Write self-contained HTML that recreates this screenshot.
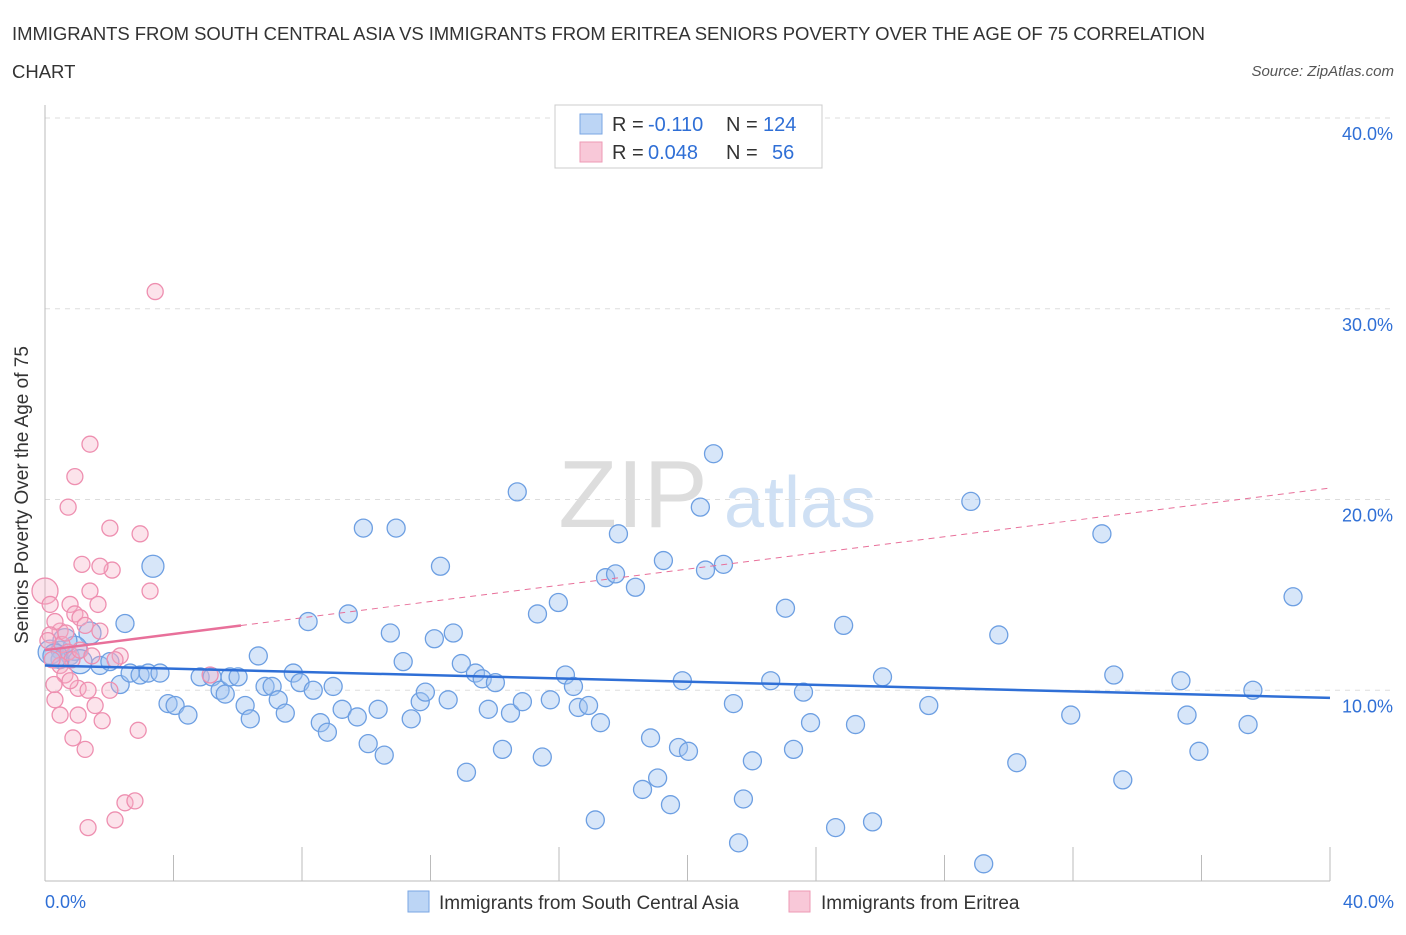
<!DOCTYPE html>
<html><head><meta charset="utf-8"><style>
body{margin:0;background:#fff;font-family:"Liberation Sans",sans-serif}
svg text{font-family:"Liberation Sans",sans-serif}
</style></head><body>
<svg id="chart" width="1406" height="930" xmlns="http://www.w3.org/2000/svg">
<text x="12" y="40" font-size="18.5" fill="#333" textLength="1193">IMMIGRANTS FROM SOUTH CENTRAL ASIA VS IMMIGRANTS FROM ERITREA SENIORS POVERTY OVER THE AGE OF 75 CORRELATION</text>
<text x="12" y="78" font-size="18.5" fill="#333">CHART</text>
<text x="1394" y="76" font-size="15" fill="#555" font-style="italic" text-anchor="end">Source: ZipAtlas.com</text>
<text x="633" y="527" font-size="96" fill="#ddd" font-family="Liberation Serif" text-anchor="middle">ZIP</text>
<text x="800" y="527" font-size="72" fill="#cfe0f4" text-anchor="middle">atlas</text>
<g id="grid"></g><g id="axes"></g><g id="pts"></g><g id="trends"></g>
<text x="28" y="495" font-size="19" fill="#333" text-anchor="middle" transform="rotate(-90 28 495)">Seniors Poverty Over the Age of 75</text>
<g>
<rect x="555" y="105" width="267" height="63" fill="#fff" stroke="#ccc"/>
<rect x="580" y="114" width="22" height="20" fill="#bcd5f5" stroke="#7aa6e3"/>
<rect x="580" y="142" width="22" height="20" fill="#f8c8d8" stroke="#ee9ab5"/>
<text x="612" y="131" font-size="20" fill="#333">R =</text>
<text x="648" y="131" font-size="20" fill="#2f6fd6">-0.110</text>
<text x="726" y="131" font-size="20" fill="#333">N =</text>
<text x="763" y="131" font-size="20" fill="#2f6fd6">124</text>
<text x="612" y="159" font-size="20" fill="#333">R =</text>
<text x="648" y="159" font-size="20" fill="#2f6fd6">0.048</text>
<text x="726" y="159" font-size="20" fill="#333">N =</text>
<text x="772" y="159" font-size="20" fill="#2f6fd6">56</text>
</g>
<g>
<rect x="408" y="891" width="21" height="21" fill="#bcd5f5" stroke="#7aa6e3"/>
<text x="439" y="909" font-size="19" fill="#333">Immigrants from South Central Asia</text>
<rect x="789" y="891" width="21" height="21" fill="#f8c8d8" stroke="#ee9ab5"/>
<text x="821" y="909" font-size="19" fill="#333">Immigrants from Eritrea</text>
</g>
</svg>
<script>
const yTicks=[10,20,30,40];
const yTickLabels=["10.0%","20.0%","30.0%","40.0%"];
const xTickLabels=["0.0%","40.0%"];
const blueX=[3.36,2.49,1.40,0.47,0.78,1.71,2.02,2.34,2.65,2.96,3.21,3.58,3.83,4.05,4.45,4.83,5.20,5.45,5.61,5.76,6.01,6.23,6.39,6.64,6.85,7.07,7.26,7.48,7.73,7.94,8.19,8.35,8.57,8.79,8.97,9.25,9.44,9.72,9.91,10.06,10.37,10.56,10.75,10.93,11.15,11.40,11.68,11.84,12.12,12.31,12.55,12.71,12.96,13.12,13.40,13.61,13.80,14.02,14.24,14.49,14.70,14.86,15.33,15.48,15.73,15.98,16.20,16.45,16.60,16.92,17.13,17.29,17.45,17.76,17.85,18.38,18.60,18.85,19.07,19.25,19.47,19.72,19.84,20.03,20.40,20.56,20.81,21.12,21.43,21.74,22.02,21.59,22.59,23.05,23.30,23.61,23.83,24.61,24.86,25.23,25.76,26.07,27.51,28.82,29.22,29.69,30.25,31.93,32.90,33.27,33.55,35.36,35.55,35.92,37.45,37.60,38.85,0.47,0.16,0.93,0.62,0.31,1.09];
const blueY=[16.5,13.5,13.0,12.1,11.8,11.3,11.5,10.3,10.9,10.8,10.9,10.9,9.3,9.2,8.7,10.7,10.7,10.0,9.8,10.7,10.7,9.2,8.5,11.8,10.2,10.2,9.5,8.8,10.9,10.4,13.6,10.0,8.3,7.8,10.2,9.0,14.0,8.6,18.5,7.2,9.0,6.6,13.0,18.5,11.5,8.5,9.4,9.9,12.7,16.5,9.5,13.0,11.4,5.7,10.9,10.6,9.0,10.4,6.9,8.8,20.4,9.4,14.0,6.5,9.5,14.6,10.8,10.2,9.1,9.2,3.2,8.3,15.9,16.1,18.2,15.4,4.8,7.5,5.4,16.8,4.0,7.0,10.5,6.8,19.6,16.3,22.4,16.6,9.3,4.3,6.3,2.0,10.5,14.3,6.9,9.9,8.3,2.8,13.4,8.2,3.1,10.7,9.2,19.9,0.9,12.9,6.2,8.7,18.2,10.8,5.3,10.5,8.7,6.8,8.2,10.0,14.9,11.6,12.0,12.2,12.6,11.8,11.5];
const pinkX=[3.43,0.93,1.40,0.72,2.02,2.96,1.15,2.09,1.71,1.40,3.27,1.65,0.78,0.93,1.09,1.25,0.47,0.31,0.16,0,0.53,0.72,0.84,0.47,0.62,1.03,1.34,1.56,2.02,2.34,2.18,5.14,0.31,0.47,1.03,1.78,2.90,0.87,1.25,2.49,2.80,2.18,1.34,0.09,0.22,0.65,1.09,1.46,0.28,0.78,1.71,0.16];
const pinkY=[30.9,21.2,22.9,19.6,18.5,18.2,16.6,16.3,16.5,15.2,15.2,14.5,14.5,14.0,13.8,13.4,13.1,13.6,12.9,15.2,12.4,12.0,11.6,11.3,10.8,10.1,10.0,9.2,10.0,11.8,11.6,10.8,9.5,8.7,8.7,8.4,7.9,7.5,6.9,4.1,4.2,3.2,2.8,12.6,11.6,13.0,12.1,11.8,10.3,10.5,13.1,14.5];
const blueTrend=[11.3,9.6];
const pinkTrend=[12.1,20.6];
const pinkSolidEnd=6.1;
const X0=45,X1=1330,Y0=881,Y1=118;
const sx=v=>X0+v/40*(X1-X0), sy=v=>Y0-v/40*(Y0-Y1);
const NS="http://www.w3.org/2000/svg";
function mk(p,t,a){const e=document.createElementNS(NS,t);for(const k in a)e.setAttribute(k,a[k]);p.appendChild(e);return e;}
const grid=document.getElementById('grid'),axes=document.getElementById('axes');
yTicks.forEach((t,i)=>{
 const l=mk(grid,'line',{x1:X0,x2:1392,y1:sy(t),y2:sy(t),stroke:'#ddd','stroke-dasharray':'5,5'});
 
 
 const tx=mk(axes,'text',{x:1393,y:sy(t)+22,'font-size':18,fill:'#2f6fd6','text-anchor':'end'});tx.textContent=yTickLabels[i];
 
 
});
const la=mk(axes,'line',{x1:X0,x2:X0,y1:105,y2:Y0,stroke:'#bbb'});


const lb=mk(axes,'line',{x1:X0,x2:X1,y1:Y0,y2:Y0,stroke:'#bbb'});


for(let i=0;i<=10;i++){const t=mk(axes,'line',{x1:sx(i*4),x2:sx(i*4),y1:Y0,y2:Y0-(i%2?26:34),stroke:'#bbb'});
 
 }
[[0,'start',45],[40,'end',1394]].forEach((d,i)=>{const t=mk(axes,'text',{x:d[2],y:908,'font-size':18,fill:'#2f6fd6','text-anchor':d[1]});t.textContent=xTickLabels[i];
 
 });
const pts=document.getElementById('pts');
blueX.forEach((x,i)=>{const c=mk(pts,'circle',{cx:sx(x),cy:sy(blueY[i]),r:(i==0||i==2)?11:(i>=118?12:9),fill:'rgba(160,196,240,0.42)',stroke:'#6d9fe2','stroke-width':1.3});
 
 });
pinkX.forEach((x,i)=>{const c=mk(pts,'circle',{cx:sx(x),cy:sy(pinkY[i]),r:i==19?13:8,fill:'rgba(246,175,198,0.35)',stroke:'#ee8fb0','stroke-width':1.3});
 
 });
const tr=document.getElementById('trends');
const bt=mk(tr,'line',{x1:sx(0),y1:sy(blueTrend[0]),x2:sx(40),y2:sy(blueTrend[1]),stroke:'#2f6fd6','stroke-width':2.5});


const pAt=x=>pinkTrend[0]+(pinkTrend[1]-pinkTrend[0])*x/40;
const ps=mk(tr,'line',{x1:sx(0),y1:sy(pAt(0)),x2:sx(pinkSolidEnd),y2:sy(pAt(pinkSolidEnd)),stroke:'#e8709a','stroke-width':2.5});


const pd=mk(tr,'line',{x1:sx(pinkSolidEnd),y1:sy(pAt(pinkSolidEnd)),x2:sx(40),y2:sy(pAt(40)),stroke:'#e8709a','stroke-width':1,'stroke-dasharray':'6,5'});


</script>
</body></html>
